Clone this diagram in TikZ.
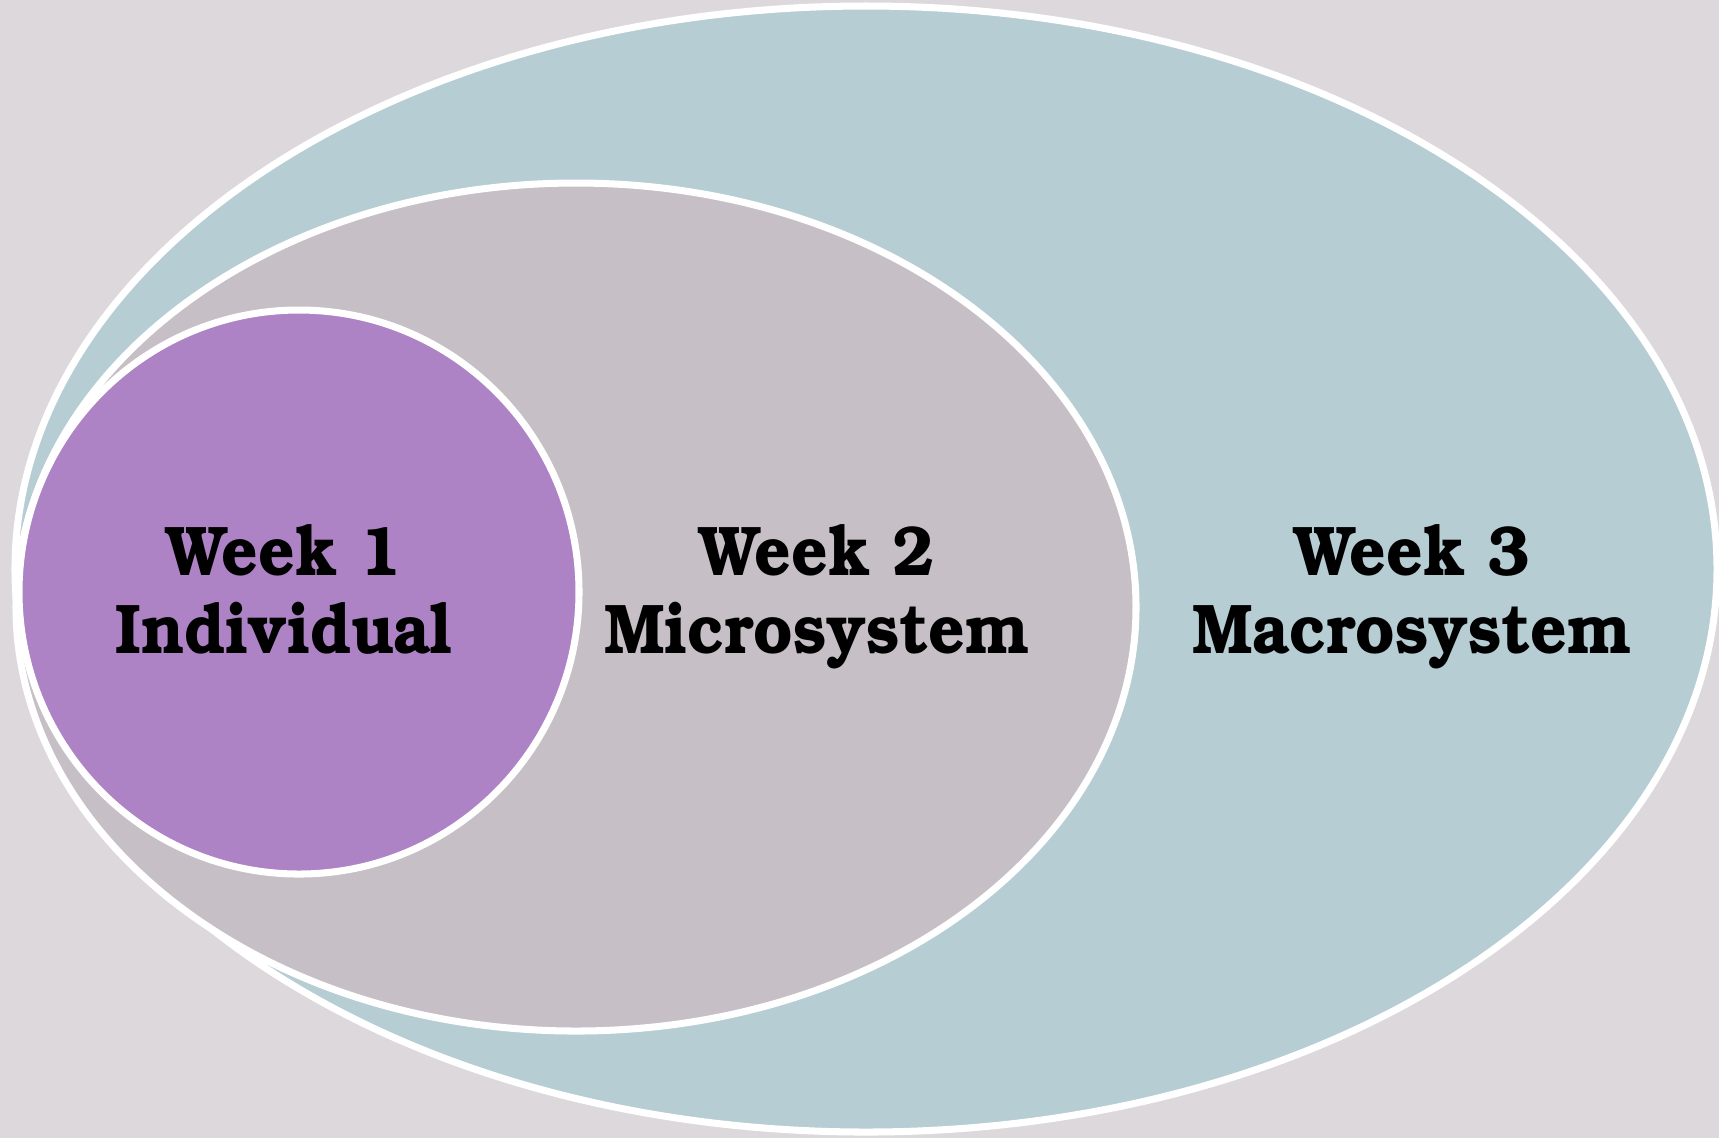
\documentclass[tikz,border=0pt]{standalone}
\usepackage[T1]{fontenc}
\usepackage{bookman}
\definecolor{bgcol}{HTML}{DDD8DC}
\definecolor{macrocol}{HTML}{B6CDD4}
\definecolor{microcol}{HTML}{C6BFC6}
\definecolor{indivcol}{HTML}{AD83C6}
\newcommand{\narrow}[1]{\strut\scalebox{0.91}[1]{#1}}
\tikzset{ring/.style={draw=white, line width=2pt},
  weeklabel/.style={align=center, text=black, font=\bfseries\fontsize{20}{22}\selectfont}}
\begin{document}
\begin{tikzpicture}[x=0.01cm, y=-0.01cm]
  \fill[bgcol] (0,0) rectangle (1719,1138);
  \useasboundingbox (0,0) rectangle (1719,1138);
  \draw[ring, fill=macrocol] (866,569) ellipse [x radius=851, y radius=563];
  \draw[ring, fill=microcol] (576,607) ellipse [x radius=560, y radius=424];
  \draw[ring, fill=indivcol] (299,592) ellipse [x radius=280, y radius=282];
  \node[weeklabel] (w1) at (284,599) {\narrow{Week 1}\\\narrow{Individual}};
  \node[weeklabel] (w2) at (817,599) {\narrow{Week 2}\\\narrow{Microsystem}};
  \node[weeklabel] (w3) at (1412,599) {\narrow{Week 3}\\\narrow{Macrosystem}};
\end{tikzpicture}
\end{document}
